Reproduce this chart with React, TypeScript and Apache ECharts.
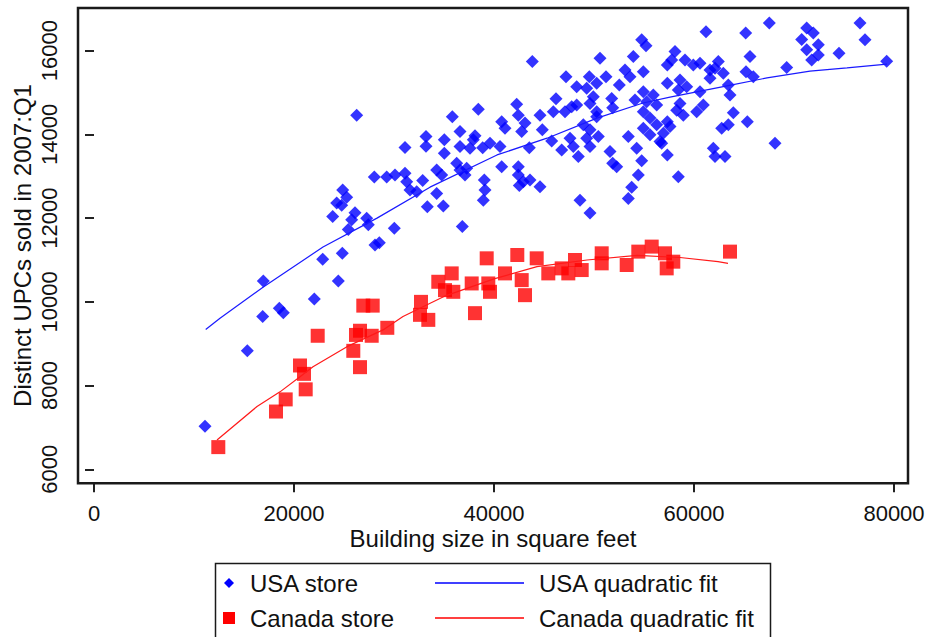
import { useEffect, useRef } from "react";
import * as echarts from "echarts";

const xTicks = [0, 20000, 40000, 60000, 80000];
const yTicks = [6000, 8000, 10000, 12000, 14000, 16000];
const xAxisTitle = "Building size in square feet";
const yAxisTitle = "Distinct UPCs sold in 2007:Q1";
const legendLabels = ["USA store", "USA quadratic fit", "Canada store", "Canada quadratic fit"];

// [building size in sq ft, distinct UPCs]
const usaStores: [number, number][] = [
  [24830, 11160], [22870, 11020], [16930, 10500], [24430, 10500], [22030, 10070], [18530, 9850],
  [18930, 9740], [16870, 9650], [15330, 8830], [11100, 7030],
  [26270, 14460], [31100, 13690], [28030, 12980], [29270, 12980], [30100, 13030], [31100, 13070],
  [31270, 12870], [31600, 12670], [32270, 12630], [32870, 12900], [33330, 12270], [24870, 12670],
  [25270, 12500], [24270, 12360], [24770, 12310], [23870, 12040], [26100, 12130], [25770, 11960],
  [25430, 11730], [27270, 12000], [27430, 11840], [30030, 11760], [28530, 11410], [28100, 11360],
  [36830, 11800],
  [33200, 13950], [33200, 13720], [35030, 13870], [35030, 13550], [35830, 14420], [36600, 14070],
  [36600, 13710], [34270, 13150], [34770, 13030], [36270, 13310], [36600, 13150], [34270, 12590],
  [34930, 12290],
  [43830, 15740], [38430, 14600], [37270, 13190], [37100, 13030], [37930, 13870], [38100, 13970],
  [37600, 13670], [38870, 13680], [39600, 13790], [40600, 13710], [40770, 14300], [41100, 14150],
  [42270, 14720], [42430, 14460], [43100, 14270], [42770, 14070], [43530, 13680], [40770, 13230],
  [39030, 12910], [39100, 12670], [38930, 12430], [42430, 13230], [42430, 13030], [42930, 12870],
  [43600, 12910], [42530, 12780], [44600, 12750], [44600, 14460], [44830, 14110], [45930, 14540],
  [46200, 14850], [45770, 13840], [46770, 13630], [47600, 13910], [47930, 13710], [48430, 13470],
  [47100, 14540], [47770, 14660], [48270, 14700], [47200, 15380], [48270, 15140], [49530, 15380],
  [49270, 15100], [50270, 15220], [51200, 15380], [50600, 15820], [49930, 14900], [49600, 14740],
  [50270, 14540], [48930, 14230], [49600, 14110], [50270, 14420], [49270, 13910], [50430, 13950],
  [49600, 13710], [51770, 14860], [51870, 14640], [52530, 15180], [51600, 13590], [51870, 13310],
  [52270, 13230], [48600, 12430], [49600, 12120], [53430, 13950], [54270, 13670], [54770, 13370],
  [54430, 13030], [53770, 12740], [53430, 12470], [53100, 15540], [53930, 15860], [54770, 16260],
  [55200, 16120], [53600, 15380], [54930, 15500], [54100, 14820], [54930, 15020], [55270, 14780],
  [55930, 14940], [56270, 14700], [54930, 14540], [55600, 14390], [56270, 14230], [54930, 14150],
  [55600, 13990], [56600, 13830], [56930, 14030], [57330, 14300], [57330, 15220], [57330, 15660],
  [57330, 13510],
  [61200, 16450], [65170, 16420], [67530, 16660], [71270, 16540], [71930, 16420], [70770, 16270],
  [72430, 16140], [71270, 16020], [72430, 15900], [71770, 15780], [74500, 15940], [76600, 16660],
  [77100, 16260], [79270, 15750], [69270, 15600], [65600, 15860], [65200, 15500], [65930, 15380],
  [68100, 13790], [65330, 14300], [63930, 14520], [63430, 14230], [62770, 14150], [63100, 13470],
  [61930, 13670], [62100, 13470], [58430, 12990], [63600, 14940], [63430, 15180], [62430, 15740],
  [62930, 15460], [61600, 15540], [60600, 15700], [59930, 15660], [60600, 15020], [60930, 14700],
  [60270, 14540], [58100, 15980], [57770, 15780], [59100, 15780], [58600, 15300], [59270, 15140],
  [58600, 14740], [58270, 14580], [58930, 14460], [57600, 14190], [56770, 13790], [61600, 15340],
  [62100, 15580], [58430, 15060],
];

const canadaStores: [number, number][] = [
  [26930, 9910], [27870, 9910], [22370, 9190], [26600, 9310], [26200, 9210], [27770, 9190],
  [29330, 9380], [25930, 8830], [20600, 8480], [21000, 8280], [26600, 8440], [21170, 7910],
  [19170, 7670], [18200, 7380], [12430, 6530], [32700, 10000], [32600, 9690], [33430, 9570],
  [34430, 10480], [35770, 10680], [35930, 10240], [35100, 10280], [37770, 10440], [38100, 9730],
  [39270, 11040], [39430, 10440], [39600, 10240], [41100, 10680], [42330, 11120], [42770, 10520],
  [43100, 10160], [44270, 11040], [45430, 10680], [46770, 10800], [47430, 10680], [48100, 11000],
  [48770, 10760], [50770, 11160], [50770, 10920], [53270, 10880], [54430, 11200], [55770, 11320],
  [57100, 11160], [57270, 10800], [57930, 10960], [63600, 11200],
];

const usaFitX = [11170, 12600, 16900, 22900, 28300, 33600, 40300, 45300, 50300, 54900, 57600, 63300, 67300, 71600, 75300, 79300];
const usaFitY = [9340, 9610, 10350, 11310, 12000, 12740, 13510, 13910, 14390, 14750, 14890, 15160, 15350, 15510, 15590, 15680];
const canadaFitX = [12300, 16300, 18600, 20600, 21900, 25300, 28900, 30900, 35000, 40000, 44300, 49300, 54300, 58600, 62400, 63400];
const canadaFitY = [6700, 7500, 7850, 8210, 8450, 8930, 9330, 9650, 10130, 10550, 10840, 11000, 11110, 11060, 10960, 10920];

const FONT = "'Liberation Sans', Arial, sans-serif";
const TXT = "#111";
const TITLE_FONT = `24px ${FONT}`;

export default function App() {
  const ref = useRef<HTMLDivElement>(null);
  useEffect(() => {
    if (!ref.current) return;
    const chart = echarts.init(ref.current, null, { renderer: "svg" });
    const usaFit = usaFitX.map((x, i) => [x, usaFitY[i]]);
    const canadaFit = canadaFitX.map((x, i) => [x, canadaFitY[i]]);
    const legendRow1 = 583;
    const legendRow2 = 618;
    chart.setOption({
      animation: false,
      backgroundColor: "#fff",
      textStyle: { fontFamily: FONT },
      grid: { left: 94, top: 50.7, width: 800, height: 418.6 },
      xAxis: {
        type: "value",
        min: xTicks[0],
        max: xTicks[xTicks.length - 1],
        interval: xTicks[1] - xTicks[0],
        offset: 14,
        axisLine: { show: false },
        axisTick: { show: true, length: 9, lineStyle: { color: "#222", width: 2 } },
        axisLabel: {
          fontSize: 22, color: TXT, margin: 19, fontFamily: FONT,
          formatter: (v: number) => String(v),
        },
        splitLine: { show: false },
      },
      yAxis: {
        type: "value",
        min: yTicks[0],
        max: yTicks[yTicks.length - 1],
        interval: yTicks[1] - yTicks[0],
        offset: 16,
        axisLine: { show: false },
        axisTick: { show: true, length: 9, lineStyle: { color: "#222", width: 2 } },
        axisLabel: {
          fontSize: 22, color: TXT, margin: 18, rotate: 90, fontFamily: FONT,
          formatter: (v: number) => String(v),
        },
        splitLine: { show: false },
      },
      series: [
        {
          name: legendLabels[0],
          type: "scatter",
          data: usaStores,
          symbol: "diamond",
          symbolSize: 13,
          itemStyle: { color: "#0000ff" },
          clip: false,
          z: 2,
        },
        {
          name: legendLabels[2],
          type: "scatter",
          data: canadaStores,
          symbol: "rect",
          symbolSize: 14,
          itemStyle: { color: "#ff0000" },
          clip: false,
          z: 2,
        },
        {
          name: legendLabels[1],
          type: "line",
          data: usaFit,
          showSymbol: false,
          symbol: "none",
          lineStyle: { color: "#1a1aff", width: 1.2 },
          clip: false,
          z: 3,
        },
        {
          name: legendLabels[3],
          type: "line",
          data: canadaFit,
          showSymbol: false,
          symbol: "none",
          lineStyle: { color: "#ff1a1a", width: 1.2 },
          clip: false,
          z: 3,
        },
      ],
      graphic: [
        {
          type: "rect",
          shape: { x: 78, y: 8, width: 830, height: 475.3 },
          style: { fill: "none", stroke: "#1a1a1a", lineWidth: 2.5 },
          z: 10,
        },
        {
          type: "text",
          x: 22,
          y: 245.5,
          rotation: Math.PI / 2,
          style: { text: yAxisTitle, fill: TXT, font: TITLE_FONT, align: "center", verticalAlign: "middle" },
        },
        {
          type: "text",
          x: 493,
          y: 538,
          style: { text: xAxisTitle, fill: TXT, font: TITLE_FONT, align: "center", verticalAlign: "middle" },
        },
        {
          type: "rect",
          shape: { x: 215.5, y: 563.5, width: 555, height: 100 },
          style: { fill: "#fff", stroke: "#1a1a1a", lineWidth: 1.5 },
        },
        {
          type: "polygon",
          shape: { points: [[229, legendRow1 - 5], [234, legendRow1], [229, legendRow1 + 5], [224, legendRow1]] },
          style: { fill: "#0000ff" },
        },
        {
          type: "rect",
          shape: { x: 223, y: legendRow2 - 6, width: 12, height: 12 },
          style: { fill: "#ff0000" },
        },
        {
          type: "line",
          shape: { x1: 435, y1: legendRow1, x2: 524, y2: legendRow1 },
          style: { stroke: "#0000ff", lineWidth: 1.5 },
        },
        {
          type: "line",
          shape: { x1: 435, y1: legendRow2, x2: 524, y2: legendRow2 },
          style: { stroke: "#ff0000", lineWidth: 1.5 },
        },
        {
          type: "text", x: 250, y: legendRow1,
          style: { text: legendLabels[0], fill: TXT, font: TITLE_FONT, verticalAlign: "middle" },
        },
        {
          type: "text", x: 539, y: legendRow1,
          style: { text: legendLabels[1], fill: TXT, font: TITLE_FONT, verticalAlign: "middle" },
        },
        {
          type: "text", x: 250, y: legendRow2,
          style: { text: legendLabels[2], fill: TXT, font: TITLE_FONT, verticalAlign: "middle" },
        },
        {
          type: "text", x: 539, y: legendRow2,
          style: { text: legendLabels[3], fill: TXT, font: TITLE_FONT, verticalAlign: "middle" },
        },
      ],
    });
    return () => chart.dispose();
  }, []);
  return (
    <div
      ref={ref}
      style={{ position: "fixed", left: 0, top: 0, width: 931, height: 637, background: "#fff" }}
    />
  );
}
